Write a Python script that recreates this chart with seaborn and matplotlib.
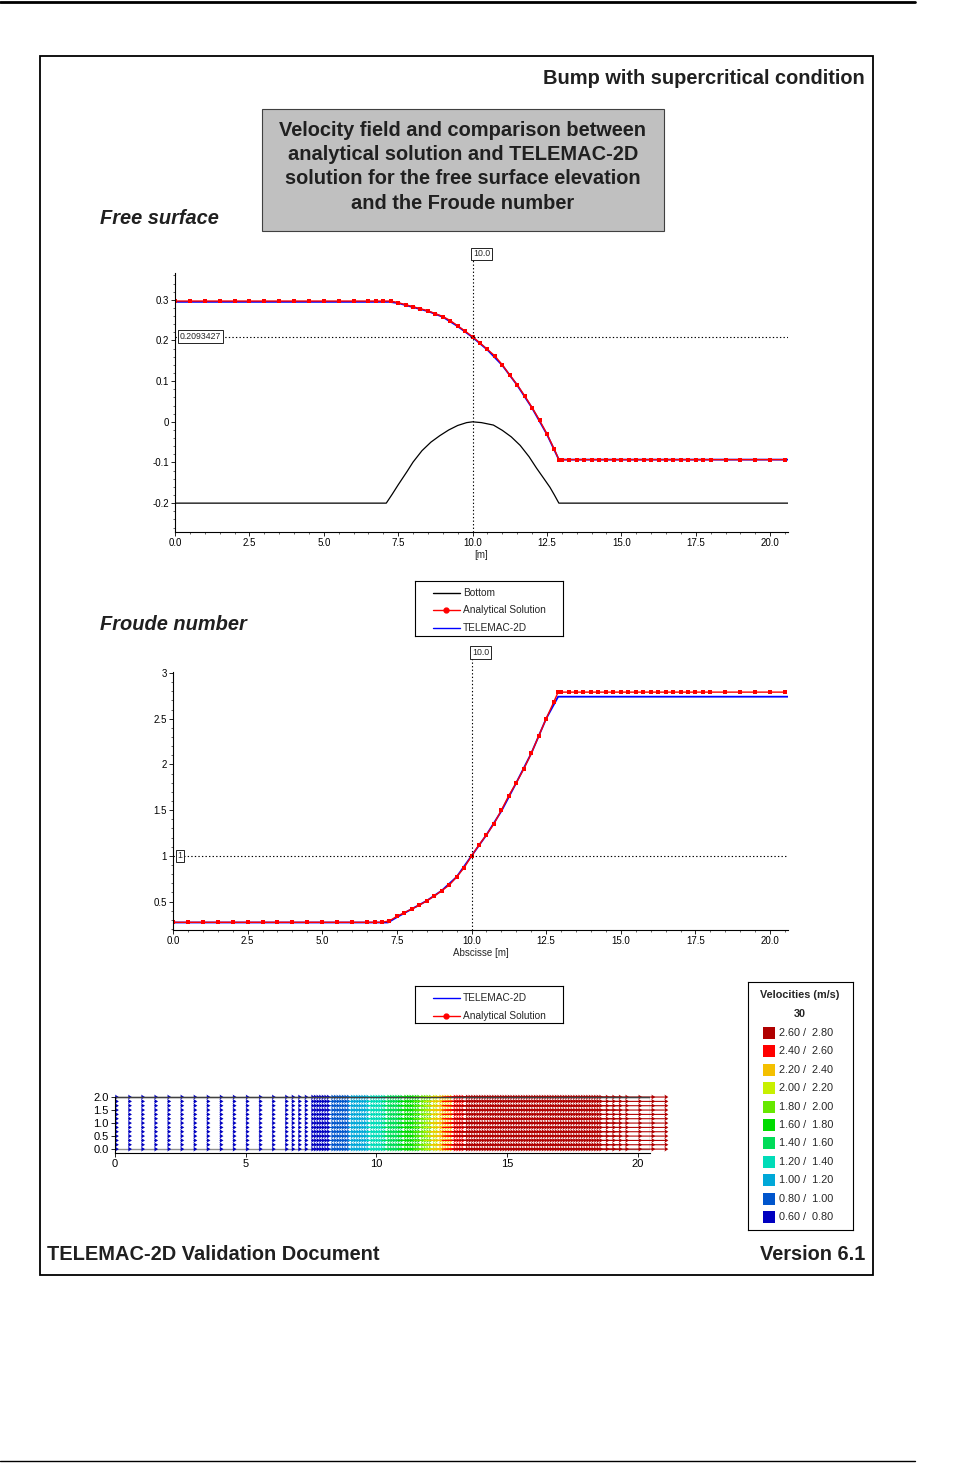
import numpy as np
import matplotlib
matplotlib.use('Agg')
import matplotlib.pyplot as plt
from matplotlib.patches import Rectangle
from matplotlib.lines import Line2D
from matplotlib.colors import ListedColormap, BoundaryNorm
from matplotlib.ticker import MultipleLocator
import seaborn as sns

W, H = 970, 1463

# ---- free surface: bottom profile
bottom_x = [0.0, 7.1, 7.3, 7.5, 7.8, 8.0, 8.3, 8.6, 8.9, 9.2, 9.5, 9.8, 10.0, 10.3, 10.7,
            11.0, 11.3, 11.6, 11.9, 12.15, 12.4, 12.6, 12.75, 12.9, 20.6]
bottom_z = [-0.2, -0.2, -0.178, -0.155, -0.122, -0.099, -0.071, -0.050, -0.034, -0.020, -0.009,
            -0.002, 0.0, -0.002, -0.008, -0.021, -0.037, -0.058, -0.086, -0.114, -0.140,
            -0.161, -0.180, -0.2, -0.2]

# analytical solution points (shared abscissa)
ana_x = [0.0, 0.5, 1.0, 1.5, 2.0, 2.5, 3.0, 3.5, 4.0, 4.5, 5.0, 5.5, 6.0, 6.5, 6.75, 7.0,
         7.25, 7.5, 7.75, 8.0, 8.25, 8.5, 8.75, 9.0, 9.25, 9.5, 9.75, 10.0, 10.25, 10.5,
         10.75, 11.0, 11.25, 11.5, 11.75, 12.0, 12.25, 12.5, 12.75, 12.9,
         13.0, 13.25, 13.5, 13.75, 14.0, 14.25, 14.5, 14.75, 15.0, 15.25, 15.5, 15.75,
         16.0, 16.25, 16.5, 16.75, 17.0, 17.25, 17.5, 17.75, 18.0, 18.5, 19.0, 19.5, 20.0, 20.5]
surf_ana = ([0.297] * 16 +
            [0.297, 0.293, 0.288, 0.283, 0.278, 0.273, 0.266, 0.259, 0.249, 0.236, 0.223, 0.209,
             0.194, 0.178, 0.162, 0.140, 0.115, 0.091, 0.064, 0.035, 0.004, -0.030, -0.068, -0.093] +
            [-0.093] * 26)
froude_ana = ([0.274] * 16 +
              [0.29, 0.34, 0.38, 0.42, 0.46, 0.51, 0.56, 0.62, 0.68, 0.77, 0.87, 1.00,
               1.12, 1.23, 1.35, 1.50, 1.66, 1.80, 1.95, 2.12, 2.31, 2.50, 2.68, 2.79] +
              [2.79] * 26)

# TELEMAC-2D results
tele_x = [0.0, 7.2, 7.5, 8.0, 8.5, 9.0, 9.5, 10.0, 10.5, 11.0, 11.5, 12.0, 12.5, 12.9, 20.6]
tele_surf = [0.295, 0.295, 0.292, 0.282, 0.272, 0.258, 0.235, 0.208, 0.177, 0.139, 0.090, 0.034, -0.031, -0.093, -0.093]
tele_froude = [0.272, 0.272, 0.33, 0.42, 0.51, 0.62, 0.77, 1.0, 1.23, 1.49, 1.80, 2.12, 2.50, 2.74, 2.74]

# ---- velocity field
vel_levels = [0.6, 0.8, 1.0, 1.2, 1.4, 1.6, 1.8, 2.0, 2.2, 2.4, 2.6, 2.8]
vel_colors = ['#0000c0', '#0055cc', '#00a8d8', '#00dcb8', '#00dc58', '#00dc00',
              '#66e800', '#c8f000', '#f4c000', '#ff0000', '#b00000']
band_edges_x = [8.1, 8.8, 9.5, 10.1, 10.7, 11.3, 11.7, 11.95, 12.4, 12.8]
band_speed = [0.62, 0.9, 1.1, 1.3, 1.5, 1.7, 1.9, 2.1, 2.3, 2.5, 2.78]
vec_rows = [0.0, 0.167, 0.333, 0.5, 0.667, 0.833, 1.0, 1.167, 1.333, 1.5, 1.667, 1.833, 2.0]
vec_cols = np.concatenate([np.arange(0, 6.01, 0.5), [6.5, 6.75, 7.0, 7.25],
                           np.arange(7.5, 18.01, 0.1), [18.25, 18.5, 18.75, 19.0, 19.5, 20.0, 20.5]])


def box(l, t, r, b):
    return [l / W, 1 - b / H, (r - l) / W, (b - t) / H]


def fx(x):
    return x / W


def fy(y):
    return 1 - y / H


sns.set_theme(style='white')
plt.rcParams['font.family'] = ['Liberation Sans', 'DejaVu Sans']

fig = plt.figure(figsize=(W / 100, H / 100), dpi=100)
fig.patch.set_facecolor('white')

# page decorations
fig.add_artist(Line2D([0, 915 / W], [fy(2), fy(2)], color='black', lw=2))
fig.add_artist(Line2D([0, 915 / W], [fy(1461), fy(1461)], color='black', lw=1))
fig.add_artist(Rectangle((fx(40), fy(1275)), (873 - 40) / W, (1275 - 56) / H,
                         fill=False, ec='black', lw=1.3))
fig.add_artist(Rectangle((fx(262), fy(231)), (664 - 262) / W, (231 - 109) / H,
                         fc='#c0c0c0', ec='#404040', lw=0.8))

big = 14.4
fig.text(fx(865), fy(78), 'Bump with supercritical condition', ha='right', va='center',
         fontsize=big, fontweight='bold', color='#202020')
box_lines = ['Velocity field and comparison between', 'analytical solution and TELEMAC-2D',
             'solution for the free surface elevation', 'and the Froude number']
for i, s in enumerate(box_lines):
    fig.text(fx(463), fy(130 + i * 24.5), s, ha='center', va='center',
             fontsize=big, fontweight='bold', color='#202020')
fig.text(fx(100), fy(218), 'Free surface', ha='left', va='center', fontsize=big,
         fontweight='bold', style='italic', color='#202020')
fig.text(fx(100), fy(624), 'Froude number', ha='left', va='center', fontsize=big,
         fontweight='bold', style='italic', color='#202020')
fig.text(fx(47), fy(1255), 'TELEMAC-2D Validation Document', ha='left', va='center',
         fontsize=big, fontweight='bold', color='#202020')
fig.text(fx(865), fy(1255), 'Version 6.1', ha='right', va='center',
         fontsize=big, fontweight='bold', color='#202020')


def style_axes(ax, labelsize=7):
    for s in ['top', 'right']:
        ax.spines[s].set_visible(False)
    for s in ['left', 'bottom']:
        ax.spines[s].set_color('black')
        ax.spines[s].set_linewidth(0.8)
    ax.tick_params(which='major', direction='out', length=3, width=0.6, labelsize=labelsize,
                   pad=1.5, colors='black', left=True, bottom=True)
    ax.tick_params(which='minor', direction='out', length=1.5, width=0.5, left=True, bottom=True)
    ax.grid(False)
    ax.set_facecolor('none')


dot = (0, (1.2, 2.0))
tag = dict(boxstyle='square,pad=0.2', fc='white', ec='black', lw=0.6)
xt = [0, 2.5, 5, 7.5, 10, 12.5, 15, 17.5, 20]
xtl = ['0.0', '2.5', '5.0', '7.5', '10.0', '12.5', '15.0', '17.5', '20.0']

# ---- free surface plot
ax1 = fig.add_axes(box(175, 273, 788, 532))
sns.lineplot(x=bottom_x, y=bottom_z, ax=ax1, color='black', lw=0.9)
sns.lineplot(x=tele_x, y=tele_surf, ax=ax1, color='blue', lw=1.3)
sns.lineplot(x=ana_x, y=surf_ana, ax=ax1, color='red', lw=1.0, marker='s',
             markersize=2.6, markeredgewidth=0)
ax1.set_xlim(0, 20.6)
ax1.set_ylim(-0.271, 0.366)
style_axes(ax1)
ax1.set_xticks(xt)
ax1.set_xticklabels(xtl)
ax1.set_yticks([-0.2, -0.1, 0, 0.1, 0.2, 0.3])
ax1.set_yticklabels(['-0.2', '-0.1', '0', '0.1', '0.2', '0.3'])
ax1.xaxis.set_minor_locator(MultipleLocator(0.5))
ax1.yaxis.set_minor_locator(MultipleLocator(0.02))
ax1.set_xlabel('[m]', fontsize=7, labelpad=1)
ax1.plot([0, 20.6], [0.2093427, 0.2093427], ls=dot, color='black', lw=0.8)
ax1.plot([10, 10], [-0.271, 0.424], ls=dot, color='black', lw=0.8, clip_on=False)
ax1.text(10.02, 0.424, '10.0', ha='left', va='top', fontsize=6.3, bbox=tag)
ax1.text(0.15, 0.2093427, '0.2093427', ha='left', va='center', fontsize=6.3, bbox=tag)

# ---- Froude plot
ax2 = fig.add_axes(box(173, 672, 788, 930))
sns.lineplot(x=tele_x, y=tele_froude, ax=ax2, color='blue', lw=1.3)
sns.lineplot(x=ana_x, y=froude_ana, ax=ax2, color='red', lw=1.0, marker='s',
             markersize=2.6, markeredgewidth=0)
ax2.set_xlim(0, 20.6)
ax2.set_ylim(0.19, 3.01)
style_axes(ax2)
ax2.set_xticks(xt)
ax2.set_xticklabels(xtl)
ax2.set_yticks([0.5, 1, 1.5, 2, 2.5, 3])
ax2.set_yticklabels(['0.5', '1', '1.5', '2', '2.5', '3'])
ax2.xaxis.set_minor_locator(MultipleLocator(0.5))
ax2.yaxis.set_minor_locator(MultipleLocator(0.1))
ax2.set_xlabel('Abscisse [m]', fontsize=7, labelpad=1)
ax2.plot([0, 20.6], [1, 1], ls=dot, color='black', lw=0.8)
ax2.plot([10, 10], [0.19, 3.27], ls=dot, color='black', lw=0.8, clip_on=False)
ax2.text(10.02, 3.27, '10.0', ha='left', va='top', fontsize=6.3, bbox=tag)
ax2.text(0.15, 1, '1', ha='left', va='center', fontsize=6.3, bbox=tag)


# ---- legend boxes
def legend_box(l, t, r, b, entries):
    lax = fig.add_axes(box(l, t, r, b))
    lax.set_xlim(l, r)
    lax.set_ylim(b, t)
    lax.set_xticks([])
    lax.set_yticks([])
    for s in lax.spines.values():
        s.set_color('black')
        s.set_linewidth(0.8)
    for y, label, color, marker in entries:
        lax.plot([l + 18, l + 45], [y, y], color=color, lw=1.0)
        if marker:
            lax.plot([l + 31], [y], 'o', color=color, ms=3.5)
        lax.text(l + 48, y, label, ha='left', va='center', fontsize=7.3)
    return lax


legend_box(415, 581, 563, 636, [(593, 'Bottom', 'black', False),
                                 (610, 'Analytical Solution', 'red', True),
                                 (628, 'TELEMAC-2D', 'blue', False)])
legend_box(415, 986, 563, 1023, [(998, 'TELEMAC-2D', 'blue', False),
                                  (1016, 'Analytical Solution', 'red', True)])

# ---- velocity field
ax3 = fig.add_axes(box(115, 1096, 650, 1153))
cmap = ListedColormap(vel_colors)
norm = BoundaryNorm(vel_levels, cmap.N)
col_speed = np.array(band_speed)[np.searchsorted(band_edges_x, vec_cols, side='right')]
X, Y = np.meshgrid(vec_cols, vec_rows)
U = np.tile(col_speed, (len(vec_rows), 1))
V = np.zeros_like(U)
ax3.add_patch(Rectangle((0, 0), 20.46, 2.0, fill=False, ec='#909090', lw=1.0))
ax3.plot([0, 20.46], [2.0, 2.0], color='#404040', lw=1.0)
ax3.quiver(X, Y, U, V, U, cmap=cmap, norm=norm, angles='xy', scale_units='xy', scale=4.2,
           units='dots', width=1.1, headwidth=4.5, headlength=3.5, headaxislength=3.0,
           minshaft=0.5, minlength=0.5, clip_on=False)
ax3.set_xlim(0, 20.46)
ax3.set_ylim(-0.15, 2.04)
style_axes(ax3, labelsize=8)
ax3.spines['left'].set_bounds(-0.15, 2.0)
ax3.set_xticks([0, 5, 10, 15, 20])
ax3.set_yticks([0, 0.5, 1.0, 1.5, 2.0])
ax3.set_yticklabels(['0.0', '0.5', '1.0', '1.5', '2.0'])

# ---- velocity legend
vax = fig.add_axes(box(748, 982, 853, 1230))
vax.set_xlim(748, 853)
vax.set_ylim(1230, 982)
vax.set_xticks([])
vax.set_yticks([])
for s in vax.spines.values():
    s.set_color('black')
    s.set_linewidth(0.8)
vax.text(800, 995, 'Velocities (m/s)', ha='center', va='center', fontsize=7.8, fontweight='bold')
vax.text(800, 1014, '30', ha='center', va='center', fontsize=7.8, fontweight='bold')
for i in range(len(vel_colors)):
    k = len(vel_colors) - 1 - i
    y = 1033 + i * 18.4
    vax.add_patch(Rectangle((763, y - 6), 12, 12, fc=vel_colors[k], ec='none'))
    vax.text(779, y, f'{vel_levels[k]:.2f} /  {vel_levels[k + 1]:.2f}', ha='left',
             va='center', fontsize=7.8)

fig.savefig('out.png', dpi=100)
